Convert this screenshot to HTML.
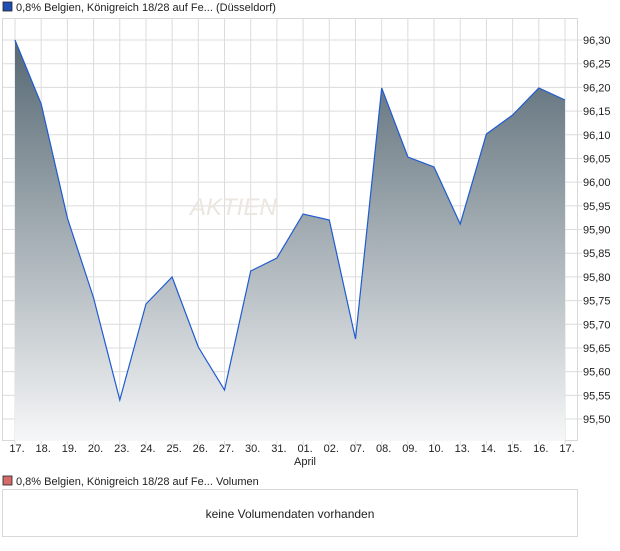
<!DOCTYPE html>
<html><head><meta charset="utf-8"><style>
body{margin:0;background:#fff;width:620px;height:546px;overflow:hidden;font-family:"Liberation Sans",sans-serif}
svg text{font-family:"Liberation Sans",sans-serif;font-size:11px;fill:#222}
</style></head><body>
<svg width="620" height="546" viewBox="0 0 620 546">
<defs>
<linearGradient id="g" gradientUnits="userSpaceOnUse" x1="0" y1="40" x2="0" y2="441">
<stop offset="0" stop-color="#566873"/>
<stop offset="1" stop-color="#f6f7f8"/>
</linearGradient>
</defs>
<rect x="3" y="2" width="9" height="9" fill="#1f4fb4" stroke="#222" stroke-width="0.8"/>
<text x="16" y="11">0,8% Belgien, Königreich 18/28 auf Fe... (Düsseldorf)</text>
<g stroke="#dcdcdc" stroke-width="1" id="grid"></g>
<rect x="2.5" y="18.5" width="575" height="422" fill="none" stroke="#d8d8d8"/>
<text x="190" y="215" style="font-size:24px;font-style:italic;fill:#ece6e0">AKTIEN</text>
<path id="area" fill="url(#g)"/>
<polyline id="line" fill="none" stroke="#1f5bd0" stroke-width="1.2"/>
<g id="ylab"></g>
<g id="xlab"></g>
<text x="294" y="465">April</text>
<rect x="3" y="476" width="9" height="9" fill="#d46a6a" stroke="#222" stroke-width="0.8"/>
<text x="16" y="485">0,8% Belgien, Königreich 18/28 auf Fe... Volumen</text>
<rect x="2.5" y="489.5" width="575" height="47" fill="none" stroke="#d8d8d8"/>
<text x="290" y="518" text-anchor="middle" style="font-size:12px">keine Volumendaten vorhanden</text>
</svg>
<script>
var ys=[40,104,218,298,400,304,277,347,390,271,258,214,220,339,88,157,167,224,134,115,88,100];
var lb=["17.","18.","19.","20.","23.","24.","25.","26.","27.","30.","31.","01.","02.","07.","08.","09.","10.","13.","14.","15.","16.","17."];
var ns="http://www.w3.org/2000/svg",s=document.querySelector('svg');
function el(t,a,p){var e=document.createElementNS(ns,t);for(var k in a)e.setAttribute(k,a[k]);(p||s).appendChild(e);return e;}
var grid=document.getElementById('grid'),xl=document.getElementById('xlab'),yl=document.getElementById('ylab');
var pts=[];
for(var i=0;i<22;i++){var x=15+i*26.19;pts.push(x.toFixed(1)+','+ys[i]);
el('line',{x1:x,y1:18,x2:x,y2:445},grid);
var t=el('text',{x:x+2,y:452,'text-anchor':'middle'},xl);t.textContent=lb[i];}
for(var j=0;j<=16;j++){var y=40+j*23.69;el('line',{x1:2,y1:y,x2:582,y2:y},grid);
var v=(96.30-j*0.05).toFixed(2).replace('.',',');var t=el('text',{x:583,y:y+4},yl);t.textContent=v;}
document.getElementById('line').setAttribute('points',pts.join(' '));
document.getElementById('area').setAttribute('d','M15,441 L'+pts.join(' L')+' L565,441 Z');
</script>
</body></html>
